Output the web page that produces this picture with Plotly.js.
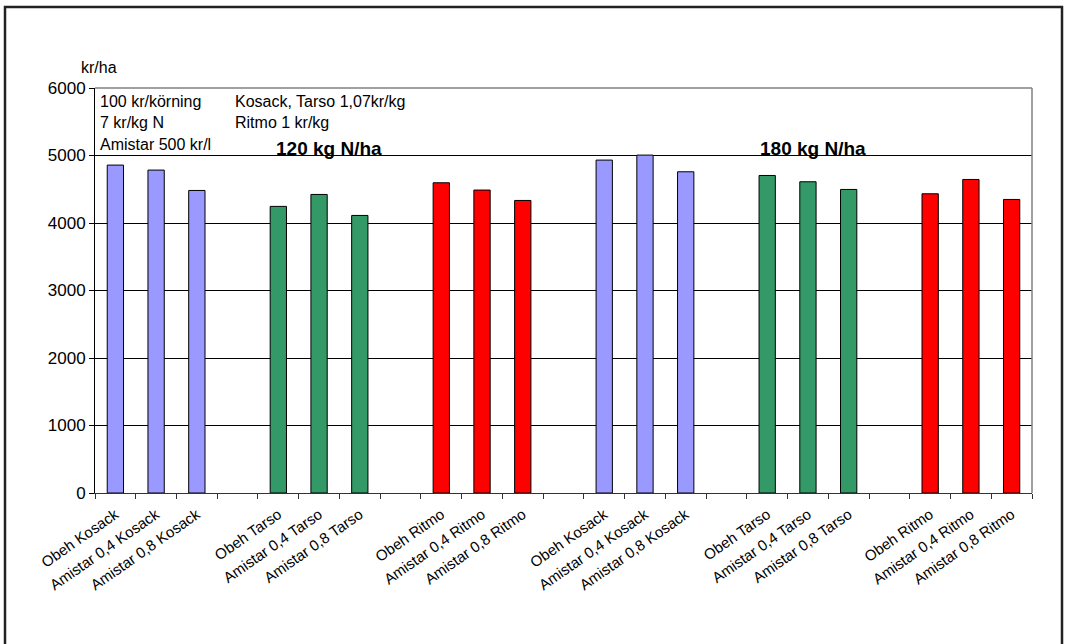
<!DOCTYPE html>
<html>
<head>
<meta charset="utf-8">
<script src="https://cdn.plot.ly/plotly-3.0.1.min.js"></script>
<style>
  html, body { margin: 0; padding: 0; background: #ffffff; }
  #chart { width: 1065px; height: 644px; }
</style>
</head>
<body>
<div id="chart"></div>
<script>
// ---- data ----
const treatments = ["Obeh", "Amistar 0,4", "Amistar 0,8"];
const varieties = ["Kosack", "Tarso", "Ritmo"];
const nLevels = ["120 kg N/ha", "180 kg N/ha"];

const kosack120 = [4858, 4784, 4482];
const tarso120  = [4246, 4423, 4112];
const ritmo120  = [4596, 4488, 4334];
const kosack180 = [4932, 5006, 4759];
const tarso180  = [4704, 4611, 4497];
const ritmo180  = [4433, 4645, 4349];

const yTicks = [0, 1000, 2000, 3000, 4000, 5000, 6000];
const yUnit = "kr/ha";
const noteLinesLeft = ["100 kr/körning", "7 kr/kg N", "Amistar 500 kr/l"];
const noteLinesRight = ["Kosack, Tarso 1,07kr/kg", "Ritmo 1 kr/kg"];

const colors = { Kosack: "#9999FF", Tarso: "#339966", Ritmo: "#FF0000" };

// ---- build slots: 3 bars per variety, one blank slot between groups ----
const series = {
  "120 kg N/ha": { Kosack: kosack120, Tarso: tarso120, Ritmo: ritmo120 },
  "180 kg N/ha": { Kosack: kosack180, Tarso: tarso180, Ritmo: ritmo180 }
};

const traceData = { Kosack: { x: [], y: [] }, Tarso: { x: [], y: [] }, Ritmo: { x: [], y: [] } };
const tickvals = [], ticktext = [];
let slot = 0;
nLevels.forEach((lvl, li) => {
  varieties.forEach((v, vi) => {
    treatments.forEach((t, ti) => {
      traceData[v].x.push(slot);
      traceData[v].y.push(series[lvl][v][ti]);
      tickvals.push(slot);
      ticktext.push(t + " " + v);
      slot++;
    });
    if (!(li === nLevels.length - 1 && vi === varieties.length - 1)) slot++;
  });
});
const nSlots = slot;
const boundaries = [];
for (let i = 0; i <= nSlots; i++) boundaries.push(i - 0.5);

const traces = varieties.map(v => ({
  type: "bar",
  x: traceData[v].x,
  y: traceData[v].y,
  name: v,
  marker: { color: colors[v], line: { color: "#000000", width: 1 } },
  hoverinfo: "y"
}));
// invisible helper trace on xaxis2 (boundary tick marks)
traces.push({ type: "scatter", x: [-0.5], y: [0], xaxis: "x2", yaxis: "y", mode: "markers",
  marker: { opacity: 0 }, hoverinfo: "skip", showlegend: false });

const font = "Liberation Sans, Arial, sans-serif";
const L = 95, R = 33, T = 88, B = 151;
const W = 1065, H = 644;
const pw = W - L - R, ph = H - T - B;
const px = x => (x - L) / pw;          // pixel -> paper x
const py = y => (H - B - y) / ph;      // pixel -> paper y

const noteFont = { family: font, size: 16, color: "#000" };
const annotations = [];
annotations.push({ text: yUnit, xref: "paper", yref: "paper", x: px(79), y: py(67),
  xanchor: "left", yanchor: "middle", showarrow: false, font: noteFont });
noteLinesLeft.forEach((t, i) => annotations.push({ text: t, xref: "paper", yref: "paper",
  x: px(98), y: py(101 + i * 21.7), xanchor: "left", yanchor: "middle", showarrow: false,
  font: noteFont }));
noteLinesRight.forEach((t, i) => annotations.push({ text: t, xref: "paper", yref: "paper",
  x: px(233), y: py(101 + i * 21.7), xanchor: "left", yanchor: "middle", showarrow: false,
  font: noteFont }));
annotations.push({ text: "<b>" + nLevels[0] + "</b>", xref: "paper", yref: "paper", x: px(329), y: py(148),
  xanchor: "center", yanchor: "middle", showarrow: false, font: { family: font, size: 19, color: "#000" } });
annotations.push({ text: "<b>" + nLevels[1] + "</b>", xref: "paper", yref: "paper", x: px(813), y: py(148),
  xanchor: "center", yanchor: "middle", showarrow: false, font: { family: font, size: 19, color: "#000" } });

const layout = {
  width: W, height: H,
  margin: { l: L, r: R, t: T, b: B, pad: 0 },
  paper_bgcolor: "#ffffff",
  plot_bgcolor: "#ffffff",
  showlegend: false,
  barmode: "overlay",
  bargap: 0.6,
  font: { family: font, size: 15, color: "#000" },
  xaxis: {
    type: "linear", range: [-0.5, nSlots - 0.5], tickmode: "array",
    tickvals: tickvals, ticktext: ticktext, ticks: "", tickangle: -35, ticklabelstandoff: 6,
    showgrid: false, zeroline: false, showline: true, linecolor: "#333333", linewidth: 1,
    tickfont: { family: font, size: 15, color: "#000" }, fixedrange: true
  },
  xaxis2: {
    type: "linear", overlaying: "x", anchor: "y", side: "bottom", range: [-0.5, nSlots - 0.5],
    tickmode: "array", tickvals: boundaries, ticks: "outside", ticklen: 5, tickcolor: "#333333",
    showticklabels: false, showgrid: false, zeroline: false, showline: false, fixedrange: true
  },
  yaxis: {
    range: [0, 6000], tickmode: "array", tickvals: yTicks, ticks: "outside", ticklen: 5,
    tickcolor: "#000", showline: true, linecolor: "#000", linewidth: 1,
    showgrid: true, gridcolor: "#000", gridwidth: 1, zeroline: false,
    tickfont: { family: font, size: 17, color: "#000" }, fixedrange: true
  },
  annotations: annotations,
  shapes: [
    { type: "line", xref: "paper", yref: "paper", x0: 0, x1: 1, y0: 1, y1: 1,
      line: { color: "#808080", width: 1.5 } },
    { type: "line", xref: "paper", yref: "paper", x0: 1, x1: 1, y0: 0, y1: 1,
      line: { color: "#808080", width: 1.5 } },
    { type: "rect", xref: "paper", yref: "paper", x0: px(5), x1: px(1062), y0: py(660), y1: py(7),
      line: { color: "#222222", width: 2.5 }, fillcolor: "rgba(0,0,0,0)" }
  ]
};

Plotly.newPlot("chart", traces, layout, { displayModeBar: false, staticPlot: true });
</script>
</body>
</html>
